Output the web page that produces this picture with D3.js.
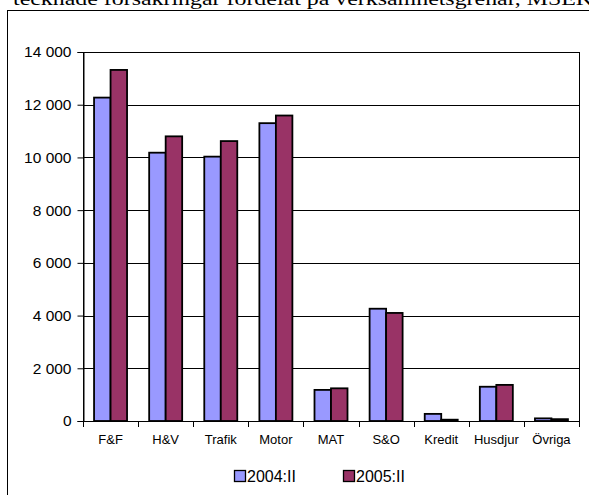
<!DOCTYPE html>
<html>
<head>
<meta charset="utf-8">
<script src="https://cdn.jsdelivr.net/npm/d3@7"></script>
<style>
  body { margin: 0; background: #fff; }
  svg { display: block; }
</style>
</head>
<body>
<svg id="chart" width="589" height="495"></svg>
<script>
var categories = ["F&F", "H&V", "Trafik", "Motor", "MAT", "S&O", "Kredit", "Husdjur", "Övriga"];
var series = ["2004:II", "2005:II"];
var values2004 = [12270, 10180, 10030, 11300, 1180, 4260, 270, 1300, 100];
var values2005 = [13320, 10800, 10620, 11590, 1240, 4100, 50, 1370, 70];
var yTicks = [0, 2000, 4000, 6000, 8000, 10000, 12000, 14000];
var colors = ["#9999ff", "#993366"];
var title = "tecknade försäkringar fördelat på verksamhetsgrenar, MSEK";

var svg = d3.select("#chart");

// title, cut off at the top like the source
svg.append("text")
	.attr("x", 13).attr("y", 5)
	.attr("textLength", 580)
	.attr("lengthAdjust", "spacingAndGlyphs")
	.style("font-family", "'Liberation Serif', 'DejaVu Serif', serif")
	.style("font-size", "19px")
	.text(title);

// outer chart frame (runs off the right and bottom)
svg.append("rect")
	.attr("x", 7.5).attr("y", 10.5)
	.attr("width", 600).attr("height", 500)
	.attr("fill", "none").attr("stroke", "#000").attr("stroke-width", 1);

var plotLeft = 83, plotRight = 579, plotTop = 52, plotBottom = 421;

var x = d3.scaleBand().domain(categories).range([plotLeft, plotRight]).padding(0);
var x1 = d3.scaleBand().domain(series).range([0, x.bandwidth()]).paddingInner(0).paddingOuter(0.67);
var y = d3.scaleLinear().domain([0, 14000]).range([plotBottom, plotTop]);

// gridlines
svg.append("g")
	.selectAll("line")
	.data(yTicks.slice(1))
	.join("line")
	.attr("x1", plotLeft).attr("x2", plotRight)
	.attr("y1", function(d) { return Math.round(y(d)) + 0.5; })
	.attr("y2", function(d) { return Math.round(y(d)) + 0.5; })
	.attr("stroke", "#000").attr("stroke-width", 1);

// plot box
svg.append("rect")
	.attr("x", plotLeft + 0.5).attr("y", plotTop + 0.5)
	.attr("width", plotRight - plotLeft).attr("height", plotBottom - plotTop)
	.attr("fill", "none").attr("stroke", "#000").attr("stroke-width", 1);

// bars
var rows = categories.map(function(c, i) {
	return { cat: c, vals: [values2004[i], values2005[i]] };
});

svg.append("g")
	.selectAll("g")
	.data(rows)
	.join("g")
	.attr("transform", function(d) { return "translate(" + x(d.cat) + ",0)"; })
	.selectAll("rect")
	.data(function(d) { return d.vals.map(function(v, j) { return { s: series[j], v: v, j: j }; }); })
	.join("rect")
	.attr("x", function(d) { return x1(d.s); })
	.attr("y", function(d) { return y(d.v); })
	.attr("width", x1.bandwidth())
	.attr("height", function(d) { return plotBottom - y(d.v); })
	.attr("fill", function(d) { return colors[d.j]; })
	.attr("stroke", "#000").attr("stroke-width", 1.8);

// y axis
var yAxis = svg.append("g")
	.attr("transform", "translate(" + (plotLeft + 0.5) + ",0)")
	.call(d3.axisLeft(y).tickValues(yTicks).tickSize(6).tickPadding(6)
		.tickFormat(function(d) { return d3.format(",")(d).replace(/,/g, "\u00a0"); }));
yAxis.select(".domain").attr("stroke", "#000");
yAxis.selectAll("text")
	.style("font-family", "'Liberation Sans', Arial, sans-serif")
	.style("font-size", "15.5px").attr("fill", "#000");

// x axis
svg.append("line")
	.attr("x1", plotLeft).attr("x2", plotRight + 1)
	.attr("y1", plotBottom + 0.5).attr("y2", plotBottom + 0.5)
	.attr("stroke", "#000");
var bounds = categories.map(function(c) { return x(c); }).concat([plotRight]);
svg.append("g")
	.selectAll("line")
	.data(bounds)
	.join("line")
	.attr("x1", function(d) { return Math.round(d) + 0.5; })
	.attr("x2", function(d) { return Math.round(d) + 0.5; })
	.attr("y1", plotBottom).attr("y2", plotBottom + 6)
	.attr("stroke", "#000");

var xAxis = svg.append("g")
	.attr("transform", "translate(0," + plotBottom + ")")
	.call(d3.axisBottom(x).tickSize(0).tickPadding(14));
xAxis.select(".domain").remove();
xAxis.selectAll("text")
	.style("font-family", "'Liberation Sans', Arial, sans-serif")
	.style("font-size", "13px").attr("fill", "#000");

// legend
var legend = svg.append("g")
	.selectAll("g")
	.data(series)
	.join("g")
	.attr("transform", function(d, i) { return "translate(" + (234 + i * 109) + ",470)"; });
legend.append("rect")
	.attr("x", 0.5).attr("y", 0.5)
	.attr("width", 11).attr("height", 11)
	.attr("fill", function(d, i) { return colors[i]; })
	.attr("stroke", "#000").attr("stroke-width", 1.3);
legend.append("text")
	.attr("x", 13).attr("y", 11.5)
	.style("font-family", "'Liberation Sans', Arial, sans-serif")
	.style("font-size", "16px")
	.text(function(d) { return d; });
</script>
</body>
</html>
